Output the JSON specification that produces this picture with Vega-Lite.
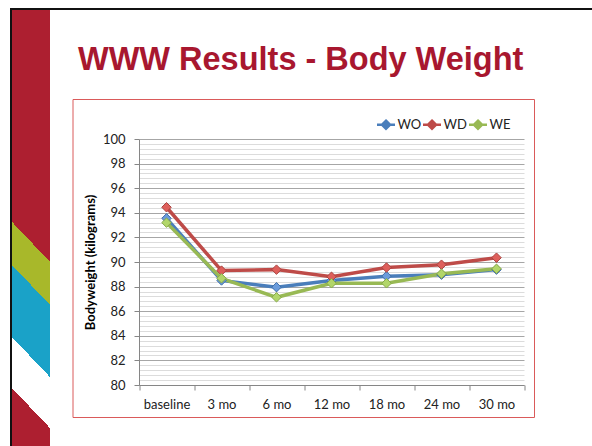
{
  "$schema": "https://vega.github.io/schema/vega-lite/v6.json",
  "padding": {"left": 10, "top": 8, "right": 0, "bottom": 0},
  "background": "white",
  "config": {"font": "Lato", "view": {"stroke": null}},
  "spacing": 0,
  "resolve": {"legend": {"color": "independent"}},
  "vconcat": [
    {"width": 582, "height": 2, "data": {"values": []}, "mark": "rect", "encoding": {}, "view": {"fill": "#111111", "stroke": null}},
    {
      "spacing": 21.5,
      "resolve": {"legend": {"color": "independent"}},
      "hconcat": [
        {
          "spacing": 0,
          "hconcat": [
            {"width": 2, "height": 436, "data": {"values": []}, "mark": "rect", "encoding": {}, "view": {"fill": "#111111", "stroke": null}},
            {"width": 38, "height": 436, "data": {"values": []}, "mark": "rect", "encoding": {},
             "view": {"stroke": null, "fill": {"gradient": "linear", "x1": 0, "y1": 0, "x2": -0.0917, "y2": 1,
               "stops": [
                 {"offset": 0, "color": "#AD1F30"}, {"offset": 0.482, "color": "#AD1F30"},
                 {"offset": 0.482, "color": "#A8B82A"}, {"offset": 0.58, "color": "#A8B82A"},
                 {"offset": 0.58, "color": "#1AA2C8"}, {"offset": 0.744, "color": "#1AA2C8"},
                 {"offset": 0.744, "color": "#FFFFFF"}, {"offset": 0.86, "color": "#FFFFFF"},
                 {"offset": 0.86, "color": "#AD1F30"}, {"offset": 1, "color": "#AD1F30"}
               ]}}}
          ]
        },
        {
          "spacing": 0,
          "resolve": {"legend": {"color": "independent"}},
          "vconcat": [
            {"width": 1, "height": 32.6, "data": {"values": []}, "mark": "rect", "encoding": {}, "view": {"stroke": null}},
            {
              "width": 461.5,
              "height": 318,
              "view": {"stroke": "#DA5A5A", "strokeWidth": 1},
              "title": {"text": "WWW Results - Body Weight", "anchor": "start", "dx": 5.5, "offset": 23, "font": "Liberation Sans", "fontSize": 32.5, "fontWeight": "bold", "color": "#A8172F"},
              "data": {"values": [
                {"series": "WO", "time": "baseline", "kg": 93.55},
                {"series": "WO", "time": "3 mo", "kg": 88.5},
                {"series": "WO", "time": "6 mo", "kg": 87.95},
                {"series": "WO", "time": "12 mo", "kg": 88.5},
                {"series": "WO", "time": "18 mo", "kg": 88.85},
                {"series": "WO", "time": "24 mo", "kg": 88.97},
                {"series": "WO", "time": "30 mo", "kg": 89.38},
                {"series": "WD", "time": "baseline", "kg": 94.45},
                {"series": "WD", "time": "3 mo", "kg": 89.3},
                {"series": "WD", "time": "6 mo", "kg": 89.38},
                {"series": "WD", "time": "12 mo", "kg": 88.8},
                {"series": "WD", "time": "18 mo", "kg": 89.55},
                {"series": "WD", "time": "24 mo", "kg": 89.78},
                {"series": "WD", "time": "30 mo", "kg": 90.35},
                {"series": "WE", "time": "baseline", "kg": 93.2},
                {"series": "WE", "time": "3 mo", "kg": 88.67},
                {"series": "WE", "time": "6 mo", "kg": 87.13},
                {"series": "WE", "time": "12 mo", "kg": 88.27},
                {"series": "WE", "time": "18 mo", "kg": 88.27},
                {"series": "WE", "time": "24 mo", "kg": 89.05},
                {"series": "WE", "time": "30 mo", "kg": 89.45}
              ]},
              "encoding": {
                "x": {"field": "time", "type": "nominal", "sort": ["baseline", "3 mo", "6 mo", "12 mo", "18 mo", "24 mo", "30 mo"],
                  "scale": {"type": "band", "range": [66.5, 451.5], "paddingInner": 0, "paddingOuter": 0},
                  "axis": {"orient": "bottom", "offset": -32, "title": null, "grid": false, "labelAngle": 0, "tickBand": "extent",
                    "tickSize": 5, "tickColor": "#868686", "domainColor": "#868686", "labelFont": "Lato", "labelFontSize": 13,
                    "labelColor": "#222222", "labelPadding": 8}},
                "y": {"field": "kg", "type": "quantitative",
                  "scale": {"domain": [80, 100], "range": [286, 40], "zero": false, "nice": false},
                  "axis": {"orient": "left", "offset": -66.5,
                    "values": [80, 80.4, 80.8, 81.2, 81.6, 82, 82.4, 82.8, 83.2, 83.6, 84, 84.4, 84.8, 85.2, 85.6, 86, 86.4, 86.8, 87.2, 87.6, 88, 88.4, 88.8, 89.2, 89.6, 90, 90.4, 90.8, 91.2, 91.6, 92, 92.4, 92.8, 93.2, 93.6, 94, 94.4, 94.8, 95.2, 95.6, 96, 96.4, 96.8, 97.2, 97.6, 98, 98.4, 98.8, 99.2, 99.6, 100],
                    "labelExpr": "datum.value % 2 === 0 ? format(datum.value, 'd') : ''",
                    "labelOverlap": false,
                    "labelBound": false,
                    "labelFlush": false,
                    "grid": true,
                    "gridColor": {"condition": {"test": "datum.value % 2 === 0", "value": "#A6A6A6"}, "value": "#DCDCDC"},
                    "tickOpacity": {"condition": {"test": "datum.value % 2 === 0", "value": 1}, "value": 0},
                    "tickSize": 5, "tickColor": "#868686", "domainColor": "#868686",
                    "labelFont": "Lato", "labelFontSize": 13, "labelColor": "#222222", "labelPadding": 9,
                    "title": "Bodyweight (kilograms)", "titleFont": "Lato", "titleFontWeight": "bold", "titleFontSize": 13,
                    "titleColor": "#000000", "titlePadding": 5}}
              },
              "layer": [
                {"mark": {"type": "line", "strokeWidth": 3.5},
                 "encoding": {"color": {"field": "series", "type": "nominal",
                   "scale": {"domain": ["WO", "WD", "WE"], "range": ["#4A7EBB", "#BE4B48", "#98B954"]},
                   "legend": {"orient": "none", "legendX": 303, "legendY": 15, "direction": "horizontal", "title": null,
                     "symbolType": "M-1,0L1,0M0,-0.45L0.45,0L0,0.45L-0.45,0Z", "symbolSize": 324, "symbolStrokeWidth": 2.5,
                     "labelFont": "Lato", "labelFontSize": 13, "labelColor": "#222222", "labelOffset": 1, "columnPadding": -4, "padding": 0,
                     "encode": {"symbols": {"update": {"fill": {"scale": "color", "field": "value"}, "fillOpacity": {"value": 1}}}}}}}},
                {"mark": {"type": "point", "shape": "diamond", "filled": true, "size": 90, "strokeWidth": 1, "opacity": 1},
                 "encoding": {
                   "fill": {"field": "series", "type": "nominal", "scale": {"domain": ["WO", "WD", "WE"], "range": ["#6A9BDB", "#DE5F5B", "#B2D66A"]}, "legend": null},
                   "stroke": {"field": "series", "type": "nominal", "scale": {"domain": ["WO", "WD", "WE"], "range": ["#3F6FA8", "#A94340", "#87A84A"]}, "legend": null}
                 }}
              ]
            }
          ]
        }
      ]
    }
  ]
}
